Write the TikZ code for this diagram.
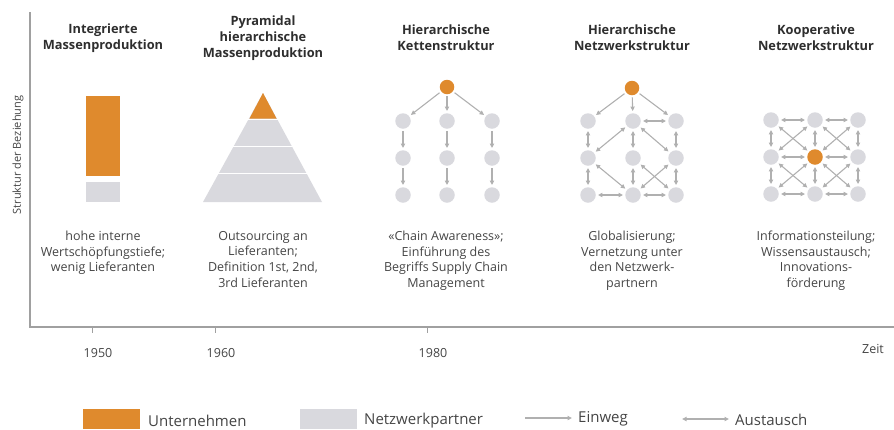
\documentclass[tikz,border=0pt]{standalone}
\usepackage{fontspec}
\setmainfont{Open Sans}
\usetikzlibrary{arrows.meta}
\definecolor{orangeU}{HTML}{DF8A2D}
\definecolor{grayN}{HTML}{D9D9DE}
\definecolor{grayA}{HTML}{B0B0B0}
\definecolor{axisgray}{HTML}{A0A0A0}
\definecolor{txt}{HTML}{454545}
\definecolor{titletxt}{HTML}{2E2E2E}

\begin{document}
\begin{tikzpicture}[x=1pt, y=-1pt,
		unt/.style={circle, fill=orangeU, minimum size=14.5pt, inner sep=0pt},
		nwp/.style={circle, fill=grayN, minimum size=15.5pt, inner sep=0pt},
		einweg/.style={draw=grayA, line width=1.1pt, -{Triangle[length=4.5pt,width=4.2pt]}, shorten >=2pt, shorten <=2pt},
		austausch/.style={einweg, {Triangle[length=4.5pt,width=4.2pt]}-{Triangle[length=4.5pt,width=4.2pt]}},
		titel/.style={font=\bfseries\fontsize{12.8}{16.2}\selectfont, align=center, text=titletxt, inner sep=0pt},
		beschr/.style={font=\fontsize{12.5}{15.6}\selectfont, align=center, text=txt, inner sep=0pt, anchor=north},
		klein/.style={font=\fontsize{12.5}{14}\selectfont, text=txt, inner sep=0pt},
		legende/.style={font=\fontsize{15}{17}\selectfont, text=txt, inner sep=0pt, anchor=west}]
		\useasboundingbox (0,0) rectangle (894,429);
		
		%axes
		\draw[axisgray, line width=1.3pt] (30,12) -- (30,327) -- (894,327);
		\node (yl) at (18,155) [rotate=90, klein, font=\fontsize{11}{12}\selectfont]{Struktur der Beziehung};
		\foreach \x/\j in {92/1950, 215/1960, 427/1980}{
			\draw[axisgray, thin] (\x,327)--(\x,333);
			\node (j\j) at (\x+6, 353) [klein]{\j};
		}
		\node (zeit) at (873, 349) [klein]{Zeit};
		
		%titles
		\node (t1) at (103, 38) [titel]{Integrierte\\Massenproduktion};
		\node (t2) at (263, 38) [titel]{Pyramidal\\hierarchische\\Massenproduktion};
		\node (t3) at (446, 38) [titel]{Hierarchische\\Kettenstruktur};
		\node (t4) at (632, 38) [titel]{Hierarchische\\Netzwerkstruktur};
		\node (t5) at (816, 38) [titel]{Kooperative\\Netzwerkstruktur};
		
		%descriptions
		\node (b1) at (103, 231) [beschr]{hohe interne\\Wertschöpfungstiefe;\\wenig Lieferanten};
		\node (b2) at (263, 231) [beschr]{Outsourcing an\\Lieferanten;\\Definition 1st, 2nd,\\3rd Lieferanten};
		\node (b3) at (446, 231) [beschr]{«Chain Awareness»;\\Einführung des\\Begriffs Supply Chain\\Management};
		\node (b4) at (632, 231) [beschr]{Globalisierung;\\Vernetzung unter\\den Netzwerk-\\partnern};
		\node (b5) at (816, 231) [beschr]{Informationsteilung;\\Wissensaustausch;\\Innovations-\\förderung};
		
		%integrated
		\fill[orangeU] (86,96) rectangle (120,176);
		\fill[grayN] (86,182) rectangle (120,202);
		
		%pyramid
		\fill[grayN] (203,202) -- (322,202) -- (263,93) -- cycle;
		\foreach \y in {119.5, 146.5, 173.5}{
			\draw[white, line width=1.5pt] (198,\y)--(328,\y);
		}
		\fill[orangeU] (263,93) -- (249.5,118.5) -- (276.5,118.5) -- cycle;
		
		%chain
		\node (k0) at (447, 87) [unt]{};
		\foreach \i/\x in {1/403, 2/447, 3/492}{
			\foreach \j/\y in {1/121, 2/158, 3/195}{
				\node (k\i\j) at (\x, \y) [nwp]{};
			}
			\draw[einweg] (k0) -- (k\i1);
			\draw[einweg] (k\i1) -- (k\i2);
			\draw[einweg] (k\i2) -- (k\i3);
		}
		
		%hierarchical network
		\node (n0) at (632, 88) [unt]{};
		\foreach \i/\x in {1/588, 2/633, 3/676}{
			\foreach \j/\y in {1/121, 2/158, 3/195}{
				\node (n\i\j) at (\x, \y) [nwp]{};
			}
			\draw[einweg] (n0) -- (n\i1);
			\draw[austausch] (n\i1) -- (n\i2);
			\draw[austausch] (n\i2) -- (n\i3);
		}
		\draw[austausch] (n21) -- (n31);
		\draw[austausch] (n13) -- (n23);
		\draw[austausch] (n23) -- (n33);
		\draw[austausch] (n12) -- (n21);
		\draw[austausch] (n21) -- (n32);
		\draw[austausch] (n12) -- (n23);
		\draw[austausch] (n22) -- (n33);
		\draw[austausch] (n32) -- (n23);
		
		%cooperative network
		\foreach \i/\x in {1/771, 2/815, 3/858}{
			\foreach \j/\y in {1/120, 2/157, 3/194}{
				\ifnum\i\j=22
					\node (c\i\j) at (\x, \y) [unt, minimum size=15.5pt]{};
				\else
					\node (c\i\j) at (\x, \y) [nwp]{};
				\fi
			}
		}
		\foreach \a/\b in {1/2, 2/3}{
			\foreach \k in {1,2,3}{
				\draw[austausch] (c\a\k) -- (c\b\k);
				\draw[austausch] (c\k\a) -- (c\k\b);
			}
			\foreach \l/\m in {1/2, 2/3}{
				\draw[austausch] (c\a\l) -- (c\b\m);
				\draw[austausch] (c\b\l) -- (c\a\m);
			}
		}
		
		%legend
		\node (lu) at (111.5, 419) [fill=orangeU, minimum width=57pt, minimum height=20pt, inner sep=0pt]{};
		\node (lut) at (148, 421) [legende]{Unternehmen};
		\node (ln) at (328.5, 419) [fill=grayN, minimum width=57pt, minimum height=20pt, inner sep=0pt]{};
		\node (lnt) at (364, 421) [legende]{Netzwerkpartner};
		\coordinate (e1) at (525, 418);
		\coordinate (e2) at (572, 418);
		\draw[einweg, shorten <=0pt, shorten >=0pt] (e1) -- (e2);
		\node (let) at (578, 419) [legende]{Einweg};
		\coordinate (a1) at (682, 419);
		\coordinate (a2) at (729, 419);
		\draw[austausch, shorten <=0pt, shorten >=0pt] (a1) -- (a2);
		\node (lat) at (735, 420) [legende]{Austausch};
\end{tikzpicture}
\end{document}
